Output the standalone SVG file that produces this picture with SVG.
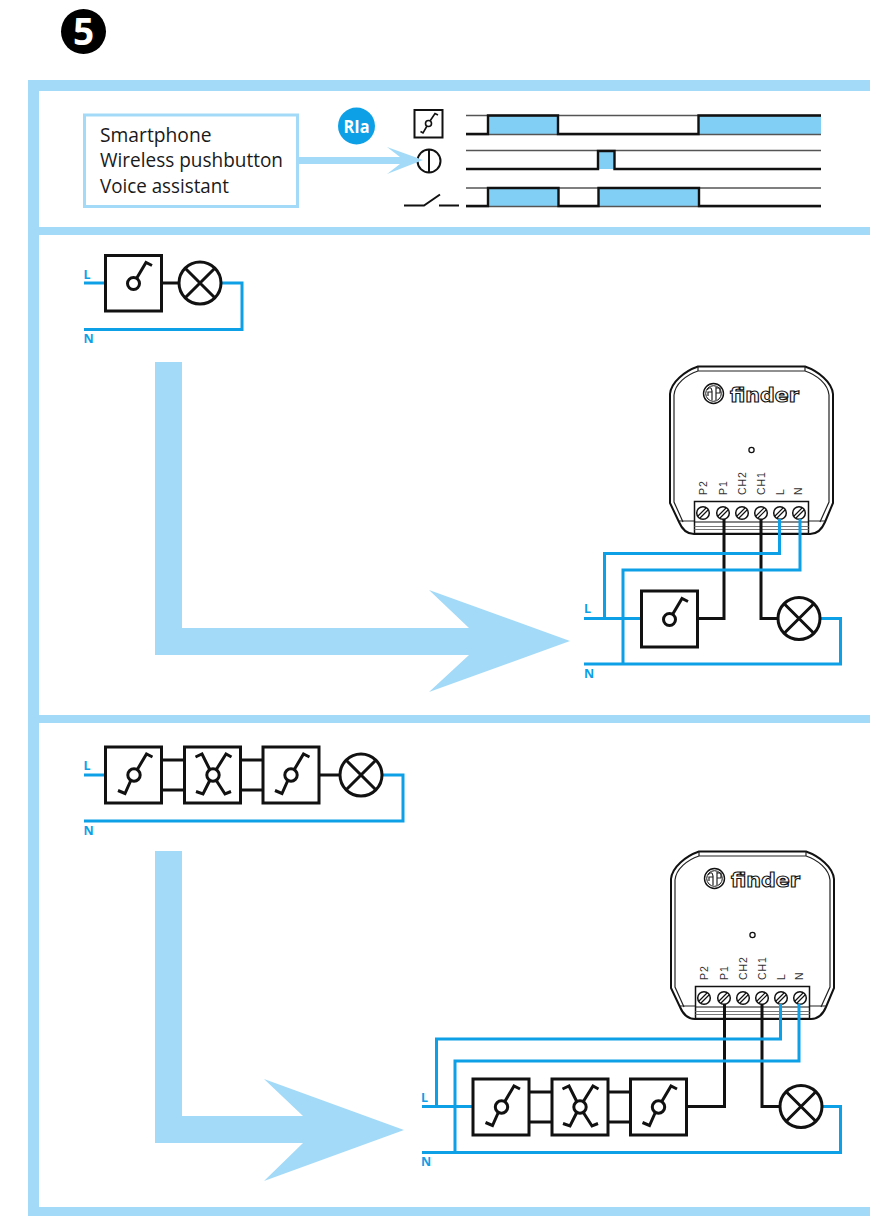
<svg xmlns="http://www.w3.org/2000/svg" width="870" height="1216" viewBox="0 0 870 1216">
<style>
.band{fill:#a3daf8}
.box{fill:#fff;stroke:#111;stroke-width:3}
.k{fill:none;stroke:#111;stroke-width:3}
.k2{fill:none;stroke:#111;stroke-width:2.4}
.b{fill:none;stroke:#0ea0e6;stroke-width:3}
.thin{fill:none;stroke:#222;stroke-width:1.2}
.grey{fill:none;stroke:#555;stroke-width:1.6}
.pulse{fill:#82cff5}
.lbl{font-family:"Open Sans","Noto Sans",sans-serif;font-size:20px;fill:#1a1a1a}
.wl{font-family:"Open Sans","Noto Sans",sans-serif;font-weight:700;font-size:12.5px;fill:#0ea0e6}
.term{font-family:"Liberation Sans",sans-serif;font-size:10.5px;letter-spacing:.9px;fill:#333}
.logo{font-family:"DejaVu Sans",sans-serif;font-weight:700;font-size:19px;fill:#fff;stroke:#111;stroke-width:1.1}
</style>
<defs>
<g id="sw1">
<circle r="6" fill="#fff" class="k"/>
<path class="k" d="M3,-5 L12.5,-21 L18.5,-18"/>
</g>
<g id="sw2">
<circle r="6.2" fill="#fff" class="k"/>
<path class="k" d="M3,-5 L12.5,-21 L18.5,-18 M-3,5 L-9,18.500 L-16,15.500"/>
</g>
<g id="sw4">
<circle r="6.200" fill="#fff" class="k"/>
<path class="k" d="M3,-5 L13,-21 L18.500,-18 M-3,-5 L-11,-21 L-17.500,-18 M-3,5 L-10,19 L-17,16.500 M3,5 L12,19 L18,16.500"/>
</g>
<g id="lamp">
<circle r="21" fill="#fff" class="k"/>
<path class="k" d="M-14.800,-14.800 L14.800,14.800 M14.800,-14.800 L-14.800,14.800"/>
</g>
<g id="screw">
<circle r="6.300" fill="#fff" stroke="#111" stroke-width="1.500"/>
<path stroke="#111" stroke-width="1.200" fill="none" d="M-5,3 L3,-5 M-3,5 L5,-3"/>
</g>
<g id="device">
<path fill="#fff" stroke="#111" stroke-width="2" d="M698,366.500 H805 C818,371 832,382 833,394 V503 L825,522 Q820,534 810,534 H694 Q684,534 679,522 L670,503 V394 C671,382 685,371 698,366.500 Z"/>
<path class="thin" d="M698,366.500 V371 H805 V366.500 M698,371 C686,375 675,384 674,395 V502 L683,522 M805,371 C817,375 828,384 829,395 V502 L820,522"/>
<path class="thin" d="M679,521 H694 M808,521 H825"/>
<rect x="694.500" y="501.500" width="114" height="32" fill="#fff" stroke="#111" stroke-width="1.500"/>
<path stroke="#111" stroke-width="1.200" d="M694.500,522 H808.500"/>
<path stroke="#777" stroke-width="1" d="M694.500,526.500 H808.500 M694.500,529.500 H808.500"/>
<use href="#screw" x="703" y="513"/>
<use href="#screw" x="723" y="513"/>
<use href="#screw" x="742" y="513"/>
<use href="#screw" x="761" y="513"/>
<use href="#screw" x="780" y="513"/>
<use href="#screw" x="799" y="513"/>
<circle cx="751.500" cy="450" r="2.600" fill="#fff" stroke="#111" stroke-width="1.300"/>
<circle cx="713.500" cy="393.500" r="10" fill="#fff" stroke="#111" stroke-width="1.400"/>
<circle cx="713.500" cy="393.500" r="7.800" fill="none" stroke="#111" stroke-width="1"/>
<path class="thin" d="M707,390 Q711,385 712,391 V400 M712,392 H708 V396 M716,387 V400 M716,388 H720 V393 H716"/>
<text class="logo" x="730" y="402" textLength="69" lengthAdjust="spacingAndGlyphs">finder</text>
<text class="term" transform="translate(707,495) rotate(-90)">P2</text>
<text class="term" transform="translate(727,495) rotate(-90)">P1</text>
<text class="term" transform="translate(746,495) rotate(-90)">CH2</text>
<text class="term" transform="translate(765,495) rotate(-90)">CH1</text>
<text class="term" transform="translate(784,495) rotate(-90)">L</text>
<text class="term" transform="translate(802,495) rotate(-90)">N</text>
</g>
</defs>

<g id="frame">
<rect class="band" x="28" y="80" width="842" height="11"/>
<rect class="band" x="28" y="80" width="11" height="1136"/>
<rect class="band" x="28" y="227" width="842" height="8"/>
<rect class="band" x="28" y="715" width="842" height="8"/>
<rect class="band" x="28" y="1207" width="842" height="9"/>
</g>

<g id="badge-5">
<circle cx="83.500" cy="31.500" r="22.500" fill="#000"/>
<text x="83.500" y="45" text-anchor="middle" font-family="'Open Sans',sans-serif" font-weight="700" font-size="37px" fill="#fff">5</text>
</g>

<g id="sources">
<rect x="84.500" y="115" width="213" height="91.500" fill="#fff" stroke="#a3daf8" stroke-width="3"/>
<text class="lbl" x="100" y="142" textLength="111.500" lengthAdjust="spacingAndGlyphs">Smartphone</text>
<text class="lbl" x="100" y="167" textLength="183" lengthAdjust="spacingAndGlyphs">Wireless pushbutton</text>
<text class="lbl" x="100" y="193" textLength="129" lengthAdjust="spacingAndGlyphs">Voice assistant</text>
</g>

<g id="badge-ria">
<circle cx="356.500" cy="126" r="18.500" fill="#0ea0e6"/>
<text x="356.500" y="133" text-anchor="middle" font-family="'Open Sans',sans-serif" font-weight="700" font-size="18px" fill="#fff" textLength="26" lengthAdjust="spacingAndGlyphs">RIa</text>
</g>

<g id="timing">
<rect class="pulse" x="488" y="116" width="70" height="18"/>
<rect class="pulse" x="698" y="116" width="123" height="18"/>
<rect class="pulse" x="598" y="151" width="17" height="18"/>
<rect class="pulse" x="488" y="188" width="70" height="18"/>
<rect class="pulse" x="598" y="188" width="101" height="18"/>
<path class="grey" d="M466,115.500 H821 M466,134.500 H821 M466,150.500 H821 M466,188 H821 M466,206.500 H821"/>
<path class="k2" d="M466,134 H488 V115.500 H558 V134 H698.500 V115.500 H821"/>
<path class="k2" d="M466,169 H598 V151 H614.500 V169 H821"/>
<path class="k2" d="M466,206 H488 V188 H558.500 V206 H598.500 V188 H699 V206 H821"/>
</g>

<g id="symbol-switch">
<rect x="414.500" y="110" width="28" height="27.500" fill="#fff" stroke="#111" stroke-width="2"/>
<circle cx="428.500" cy="123.500" r="3" fill="#fff" stroke="#111" stroke-width="1.600"/>
<path fill="none" stroke="#111" stroke-width="1.600" d="M430,121 L435,113.500 L438,115 M427,126 L423,133 L420.500,131.500"/>
</g>
<g id="symbol-push">
<circle cx="429" cy="161" r="11.500" fill="#fff" stroke="#111" stroke-width="2"/>
<path stroke="#111" stroke-width="2" d="M429,150 V172"/>
</g>
<g id="symbol-contact">
<path fill="none" stroke="#111" stroke-width="2" d="M404,205.500 H424 L440,194.500 M439,205.500 H459"/>
</g>

<g id="arrow-command">
<path class="band" d="M298,157 H400 L387,147 L423,160 L387,174 L400,164 H298 Z"/>
</g>

<g id="arrow-1">
<path class="band" d="M155,362 H182 V628 H469 L429,590 L570,641 L429,692 L469,655 H155 Z"/>
</g>
<g id="arrow-2">
<path class="band" d="M155,851 H182 V1116 H303 L264,1079 L404,1130 L264,1181 L303,1143 H155 Z"/>
</g>

<g id="device-1"><use href="#device"/></g>
<g id="device-2"><use href="#device" x="1" y="485"/></g>

<g id="connectors">
<path class="b" d="M84,283 H105"/>
<path class="b" d="M221,283 H242 V329.500 H84"/>
<path class="k" d="M161,283 H179"/>

<path class="k" d="M724,519 V618.500 H698"/>
<path class="k" d="M761,519 V618.500 H778"/>
<path class="b" d="M584,618.500 H641"/>
<path class="b" d="M779.500,519 V553.500 H604.500 V618.500"/>
<path class="b" d="M800,519 V570 H623 V664"/>
<path class="b" d="M820,618.500 H840.500 V664 H584"/>

<path class="b" d="M84,775 H105"/>
<path class="k" d="M161,760 H184 M161,790 H184 M241,760 H263 M241,790 H263 M319,775 H340"/>
<path class="b" d="M382,775 H403 V821 H84"/>

<path class="k" d="M724.500,1004 V1106.500 H687"/>
<path class="k" d="M762,1004 V1106.500 H780"/>
<path class="b" d="M422,1106.500 H473"/>
<path class="b" d="M780.500,1004 V1039 H436.500 V1106.500"/>
<path class="b" d="M799,1004 V1061 H455 V1152"/>
<path class="b" d="M822,1106.500 H840.500 V1152.500 H422"/>
<path class="k" d="M529,1092 H552 M529,1122 H552 M608,1092 H630 M608,1122 H630"/>
</g>

<g id="labels-1">
<text class="wl" x="83.500" y="279">L</text>
<text class="wl" x="83.500" y="343">N</text>
<text class="wl" x="584" y="613">L</text>
<text class="wl" x="584" y="678">N</text>
<text class="wl" x="83.500" y="770">L</text>
<text class="wl" x="83.500" y="835">N</text>
<text class="wl" x="421" y="1102">L</text>
<text class="wl" x="421" y="1166">N</text>
</g>

<g id="s1-switch"><rect class="box" x="105.500" y="255.500" width="56" height="55.500"/><use href="#sw1" x="133.500" y="283.500"/></g>
<g id="s1-lamp"><use href="#lamp" x="200" y="283"/></g>

<g id="s1b-switch"><rect class="box" x="641.500" y="591" width="56" height="56"/><use href="#sw1" x="669.500" y="619.500"/></g>
<g id="s1b-lamp"><use href="#lamp" x="799" y="618.500"/></g>

<g id="s2-switch-a"><rect class="box" x="105.500" y="747" width="56" height="56"/><use href="#sw2" x="134" y="775"/></g>
<g id="s2-cross"><rect class="box" x="184.500" y="747" width="56" height="56"/><use href="#sw4" x="213" y="775"/></g>
<g id="s2-switch-b"><rect class="box" x="263" y="747" width="56" height="56"/><use href="#sw2" x="291" y="775"/></g>
<g id="s2-lamp"><use href="#lamp" x="361" y="775"/></g>

<g id="s2b-switch-a"><rect class="box" x="473" y="1079" width="56" height="56"/><use href="#sw2" x="501.500" y="1107"/></g>
<g id="s2b-cross"><rect class="box" x="552" y="1079" width="56" height="56"/><use href="#sw4" x="580" y="1107"/></g>
<g id="s2b-switch-b"><rect class="box" x="630.500" y="1079" width="56" height="56"/><use href="#sw2" x="658.500" y="1107"/></g>
<g id="s2b-lamp"><use href="#lamp" x="801" y="1106.500"/></g>
</svg>
